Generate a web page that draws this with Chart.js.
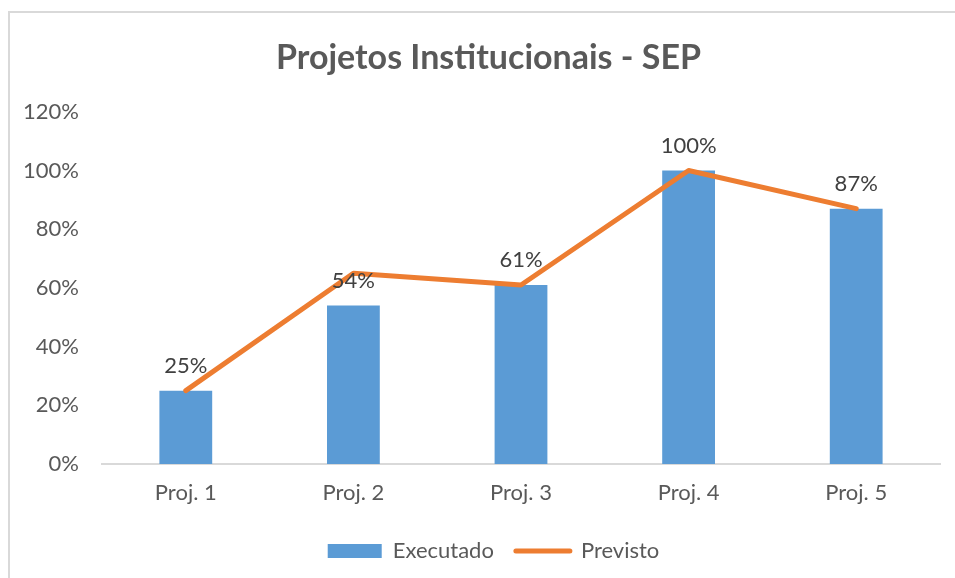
<!DOCTYPE html>
<html>
<head>
<meta charset="utf-8">
<script src="https://cdn.jsdelivr.net/npm/chart.js@4/dist/chart.umd.min.js"></script>
<style>
  html, body { margin: 0; padding: 0; background: #ffffff; overflow: hidden; }
  #frame { position: absolute; left: 8px; top: 11px; width: 1000px; height: 1000px;
           border: 2px solid #d9d9d9; box-sizing: border-box; }
  #wrap { position: absolute; left: 0; top: 0; width: 955px; height: 578px; }
</style>
</head>
<body>
<div id="frame"></div>
<div id="wrap"><canvas id="c" width="955" height="578"></canvas></div>
<script>
const categories = ['Proj. 1', 'Proj. 2', 'Proj. 3', 'Proj. 4', 'Proj. 5'];
const executado = [25, 54, 61, 100, 87];
const previsto = [25, 65, 61, 100, 87];
const yTicks = [0, 20, 40, 60, 80, 100, 120];

const FONT = 'Lato, "Open Sans", sans-serif';

const barLabels = {
  id: 'barLabels',
  afterDatasetsDraw(chart) {
    const ctx = chart.ctx;
    const meta = chart.getDatasetMeta(0);
    ctx.save();
    ctx.font = '22px ' + FONT;
    ctx.fillStyle = '#404040';
    ctx.textAlign = 'center';
    ctx.textBaseline = 'middle';
    meta.data.forEach((bar, i) => {
      ctx.fillText(executado[i] + '%', bar.x, bar.y - 25);
    });
    ctx.restore();
  }
};

// nudge the title and bottom legend so they sit where the reference has them
const blockShift = {
  id: 'blockShift',
  afterLayout(chart) {
    const lg = chart.legend;
    if (lg) { lg.left += 12; lg.right += 12; }
    const tb = chart.titleBlock;
    if (tb) { tb.left += 7; tb.right += 7; }
  }
};

new Chart(document.getElementById('c'), {
  data: {
    labels: categories,
    datasets: [
      {
        type: 'bar',
        label: 'Executado',
        data: executado,
        backgroundColor: '#5B9BD5',
        categoryPercentage: 1,
        barPercentage: 0.315,
        order: 2
      },
      {
        type: 'line',
        label: 'Previsto',
        data: previsto,
        borderColor: '#ED7D31',
        backgroundColor: '#ED7D31',
        borderWidth: 5,
        pointRadius: 0,
        borderCapStyle: 'round',
        borderJoinStyle: 'round',
        tension: 0,
        order: 1
      }
    ]
  },
  options: {
    responsive: false,
    animation: false,
    layout: { padding: { left: 23, right: 15, top: 36, bottom: 6 } },
    plugins: {
      title: {
        display: true,
        text: 'Projetos Institucionais - SEP',
        color: '#595959',
        font: { family: FONT, size: 34, weight: 'bold' },
        padding: { top: 2, bottom: 33 }
      },
      legend: {
        position: 'bottom',
        labels: {
          color: '#595959',
          font: { family: FONT, size: 22 },
          usePointStyle: true,
          pointStyleWidth: 54,
          boxHeight: 14,
          padding: 22,
          generateLabels(chart) {
            return chart.data.datasets.map((ds, i) => ({
              text: ds.label,
              fillStyle: ds.type === 'bar' ? ds.backgroundColor : 'rgba(0,0,0,0)',
              strokeStyle: ds.type === 'bar' ? 'rgba(0,0,0,0)' : ds.borderColor,
              lineWidth: ds.type === 'bar' ? 0 : 5,
              lineCap: 'round',
              pointStyle: ds.type === 'bar' ? 'rect' : 'line',
              fontColor: '#595959',
              hidden: false,
              datasetIndex: i
            }));
          }
        }
      },
      tooltip: { enabled: false }
    },
    scales: {
      x: {
        afterFit(scale) { scale.height = 54; },
        grid: { display: false, drawTicks: false },
        border: { display: true, color: '#d9d9d9', width: 2 },
        ticks: { color: '#595959', font: { family: FONT, size: 22 }, padding: 16 }
      },
      y: {
        min: 0,
        max: 120,
        afterFit(scale) { scale.width = 79; },
        afterBuildTicks(scale) { scale.ticks = yTicks.map(v => ({ value: v })); },
        grid: { display: false, drawTicks: false },
        border: { display: false },
        ticks: {
          color: '#595959',
          font: { family: FONT, size: 22 },
          padding: 23,
          callback: v => v + '%'
        }
      }
    }
  },
  plugins: [barLabels, blockShift]
});
</script>
</body>
</html>
